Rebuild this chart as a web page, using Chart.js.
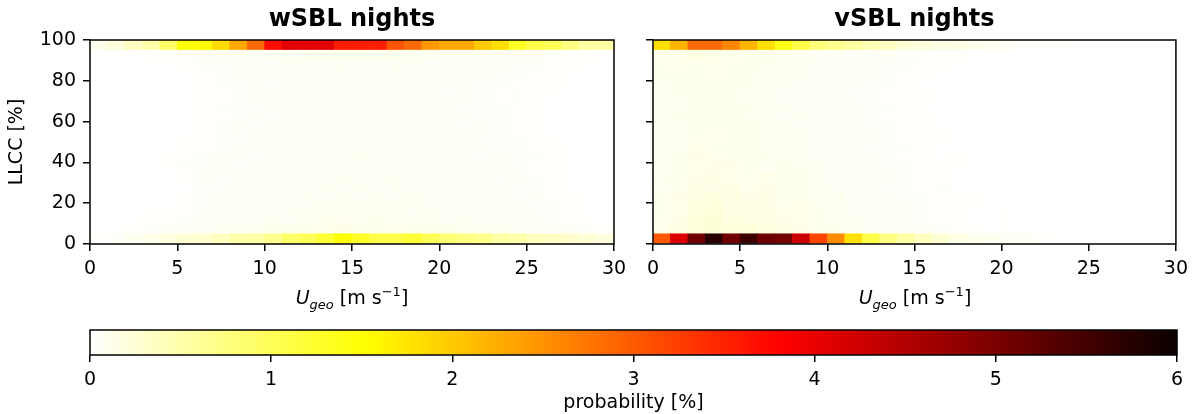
<!DOCTYPE html>
<html>
<head>
<meta charset="utf-8">
<script src="https://cdn.jsdelivr.net/npm/chart.js@4.4.1/dist/chart.umd.min.js"></script>
<style>
  body { margin: 0; background: #fff; }
  #wrap { position: relative; width: 1195px; height: 414px; background: #fff; font-family: 'DejaVu Sans', sans-serif; }
  canvas { position: absolute; }
  .xlabel { position: absolute; top: 286px; width: 524px; text-align: center; font-size: 19px; line-height: 22px; color: #000; }
  .xlabel sub { font-size: 13px; line-height: 0; vertical-align: -5px; }
  .xlabel sup { font-size: 13px; line-height: 0; vertical-align: 8px; }
</style>
</head>
<body>
<div id="wrap">
  <canvas id="wsblChart" width="640" height="284" style="left:0;top:0"></canvas>
  <canvas id="vsblChart" width="595" height="284" style="left:600px;top:0"></canvas>
  <canvas id="cbarChart" width="1195" height="104" style="left:0;top:310px"></canvas>
  <div class="xlabel" style="left:90px"><i>U</i><sub><i>geo</i></sub> [m s<sup>−1</sup>]</div>
  <div class="xlabel" style="left:653px"><i>U</i><sub><i>geo</i></sub> [m s<sup>−1</sup>]</div>
</div>
<script>
// bin edges of the 2D histograms
const windEdges = [0, 1, 2, 3, 4, 5, 6, 7, 8, 9, 10, 11, 12, 13, 14, 15, 16, 17, 18, 19, 20,
                   21, 22, 23, 24, 25, 26, 27, 28, 29, 30];
const llccEdges = [0, 5, 10, 15, 20, 25, 30, 35, 40, 45, 50, 55, 60, 65, 70, 75, 80, 85, 90, 95, 100];
const probTicks = [0, 1, 2, 3, 4, 5, 6];
const panelTitles = ['wSBL nights', 'vSBL nights'];

// probability [%] per LLCC bin (first row = 0-5 %), one value per 1 m/s wind bin
const wsblProb = [
  [0.02,0.03,0.08,0.13,0.18,0.25,0.28,0.38,0.50,0.55, 0.65,0.90,1.00,1.20,1.50,1.30,1.10,1.10,1.20,1.00, 0.85,0.75,0.70,0.55,0.50,0.38,0.35,0.30,0.25,0.20],
  [0.01,0.01,0.02,0.03,0.04,0.05,0.06,0.07,0.08,0.07, 0.09,0.10,0.09,0.12,0.13,0.11,0.10,0.12,0.11,0.10, 0.09,0.08,0.08,0.07,0.06,0.06,0.05,0.04,0.03,0.02],
  [0.00,0.01,0.01,0.02,0.02,0.03,0.05,0.05,0.06,0.05, 0.07,0.06,0.08,0.09,0.07,0.08,0.10,0.08,0.07,0.08, 0.06,0.07,0.05,0.06,0.04,0.04,0.03,0.02,0.01,0.01],
  [0.00,0.00,0.01,0.01,0.01,0.02,0.03,0.05,0.04,0.06, 0.05,0.07,0.06,0.08,0.07,0.09,0.07,0.08,0.06,0.07, 0.05,0.06,0.05,0.04,0.05,0.03,0.03,0.02,0.01,0.01],
  [0.00,0.00,0.00,0.01,0.01,0.02,0.03,0.04,0.05,0.04, 0.06,0.05,0.07,0.06,0.08,0.06,0.07,0.06,0.08,0.05, 0.06,0.04,0.05,0.04,0.03,0.04,0.02,0.02,0.01,0.00],
  [0.00,0.00,0.01,0.00,0.01,0.01,0.03,0.03,0.05,0.06, 0.04,0.06,0.05,0.07,0.06,0.07,0.05,0.07,0.06,0.06, 0.05,0.05,0.04,0.05,0.03,0.03,0.02,0.01,0.01,0.00],
  [0.00,0.00,0.00,0.01,0.01,0.02,0.04,0.03,0.04,0.05, 0.05,0.04,0.06,0.06,0.07,0.05,0.06,0.07,0.05,0.06, 0.04,0.05,0.05,0.03,0.04,0.03,0.02,0.01,0.01,0.00],
  [0.00,0.00,0.00,0.00,0.01,0.03,0.03,0.04,0.03,0.05, 0.04,0.05,0.06,0.05,0.06,0.06,0.05,0.06,0.06,0.05, 0.05,0.04,0.04,0.04,0.03,0.02,0.02,0.01,0.00,0.00],
  [0.00,0.00,0.00,0.01,0.02,0.02,0.03,0.04,0.05,0.03, 0.05,0.06,0.04,0.06,0.05,0.07,0.06,0.05,0.05,0.06, 0.04,0.05,0.03,0.04,0.03,0.03,0.02,0.01,0.01,0.00],
  [0.00,0.00,0.00,0.00,0.01,0.02,0.02,0.03,0.04,0.04, 0.04,0.05,0.05,0.04,0.06,0.05,0.05,0.06,0.04,0.05, 0.05,0.04,0.04,0.03,0.03,0.02,0.02,0.01,0.00,0.00],
  [0.00,0.00,0.00,0.00,0.01,0.01,0.02,0.03,0.03,0.04, 0.05,0.04,0.05,0.05,0.05,0.06,0.04,0.05,0.05,0.04, 0.04,0.05,0.03,0.03,0.03,0.02,0.01,0.01,0.00,0.00],
  [0.00,0.00,0.00,0.00,0.00,0.01,0.02,0.03,0.04,0.03, 0.04,0.04,0.05,0.04,0.06,0.04,0.05,0.05,0.04,0.05, 0.04,0.03,0.04,0.03,0.02,0.02,0.01,0.01,0.00,0.00],
  [0.00,0.00,0.00,0.00,0.01,0.01,0.02,0.02,0.03,0.04, 0.03,0.05,0.04,0.05,0.04,0.05,0.05,0.04,0.05,0.04, 0.04,0.04,0.03,0.03,0.02,0.02,0.01,0.01,0.00,0.00],
  [0.00,0.00,0.00,0.00,0.00,0.01,0.02,0.03,0.03,0.03, 0.04,0.04,0.05,0.04,0.05,0.05,0.04,0.05,0.04,0.04, 0.04,0.03,0.03,0.03,0.02,0.02,0.01,0.01,0.00,0.00],
  [0.00,0.00,0.00,0.00,0.01,0.01,0.02,0.02,0.03,0.04, 0.04,0.03,0.05,0.05,0.04,0.05,0.05,0.05,0.04,0.05, 0.03,0.04,0.03,0.02,0.03,0.02,0.01,0.01,0.00,0.00],
  [0.00,0.00,0.00,0.00,0.00,0.01,0.02,0.03,0.03,0.04, 0.03,0.05,0.04,0.05,0.05,0.04,0.06,0.04,0.05,0.04, 0.04,0.04,0.03,0.03,0.02,0.02,0.02,0.01,0.00,0.00],
  [0.00,0.00,0.00,0.00,0.01,0.01,0.02,0.03,0.04,0.04, 0.05,0.04,0.05,0.06,0.05,0.05,0.05,0.06,0.05,0.05, 0.04,0.04,0.04,0.03,0.03,0.02,0.02,0.01,0.01,0.00],
  [0.00,0.00,0.00,0.01,0.01,0.02,0.03,0.03,0.04,0.05, 0.05,0.06,0.06,0.05,0.07,0.06,0.06,0.07,0.06,0.05, 0.06,0.05,0.04,0.04,0.03,0.03,0.02,0.02,0.01,0.01],
  [0.00,0.01,0.01,0.02,0.03,0.04,0.05,0.06,0.06,0.07, 0.08,0.08,0.09,0.10,0.11,0.10,0.09,0.10,0.08,0.08, 0.07,0.06,0.06,0.05,0.04,0.04,0.03,0.02,0.02,0.01],
  [0.10,0.20,0.35,0.50,0.90,1.50,1.55,1.85,2.30,2.85, 3.70,4.05,4.05,4.05,3.55,3.55,3.55,3.05,2.85,2.45, 2.30,2.30,2.00,1.80,1.30,1.10,1.00,0.75,0.55,0.55]
];

const vsblProb = [
  [3.00,4.12,5.09,5.74,5.09,5.56,5.12,5.05,4.27,3.20, 2.56,1.80,1.10,0.75,0.55,0.38,0.25,0.15,0.10,0.08, 0.05,0.04,0.02,0.01,0.01,0,0,0,0,0],
  [0.12,0.16,0.22,0.25,0.21,0.22,0.18,0.17,0.14,0.11, 0.09,0.08,0.06,0.05,0.04,0.04,0.03,0.02,0.02,0.01, 0.01,0.01,0,0,0,0,0,0,0,0],
  [0.10,0.14,0.20,0.24,0.18,0.16,0.17,0.14,0.12,0.10, 0.08,0.07,0.06,0.05,0.04,0.03,0.02,0.02,0.01,0.01, 0.01,0,0,0,0,0,0,0,0,0],
  [0.09,0.12,0.19,0.21,0.15,0.17,0.14,0.12,0.13,0.09, 0.07,0.06,0.05,0.04,0.04,0.03,0.02,0.02,0.01,0.01, 0.01,0,0,0,0,0,0,0,0,0],
  [0.10,0.13,0.16,0.18,0.16,0.13,0.15,0.11,0.10,0.08, 0.09,0.06,0.05,0.04,0.03,0.03,0.02,0.02,0.02,0.01, 0,0,0,0,0,0,0,0,0,0],
  [0.08,0.11,0.15,0.14,0.15,0.12,0.13,0.10,0.09,0.08, 0.06,0.06,0.05,0.03,0.03,0.02,0.03,0.01,0.01,0.01, 0,0,0,0,0,0,0,0,0,0],
  [0.09,0.10,0.13,0.15,0.12,0.11,0.12,0.09,0.10,0.07, 0.06,0.05,0.04,0.04,0.03,0.02,0.02,0.01,0.01,0, 0,0,0,0,0,0,0,0,0,0],
  [0.07,0.10,0.12,0.13,0.13,0.10,0.07,0.10,0.08,0.07, 0.06,0.05,0.04,0.03,0.03,0.02,0.02,0.01,0.01,0, 0,0,0,0,0,0,0,0,0,0],
  [0.08,0.09,0.13,0.12,0.11,0.10,0.09,0.08,0.08,0.06, 0.05,0.05,0.04,0.03,0.02,0.02,0.01,0.02,0.01,0, 0,0,0,0,0,0,0,0,0,0],
  [0.07,0.08,0.12,0.11,0.10,0.11,0.08,0.08,0.07,0.06, 0.05,0.04,0.03,0.03,0.03,0.02,0.01,0.01,0.01,0, 0,0,0,0,0,0,0,0,0,0],
  [0.08,0.09,0.11,0.12,0.11,0.09,0.09,0.07,0.07,0.05, 0.05,0.04,0.04,0.03,0.02,0.02,0.02,0.01,0.01,0, 0,0,0,0,0,0,0,0,0,0],
  [0.07,0.08,0.11,0.10,0.09,0.10,0.08,0.07,0.06,0.06, 0.04,0.04,0.03,0.03,0.02,0.02,0.01,0.01,0,0, 0,0,0,0,0,0,0,0,0,0],
  [0.07,0.09,0.10,0.11,0.10,0.08,0.08,0.06,0.07,0.05, 0.05,0.04,0.03,0.02,0.02,0.02,0.01,0.01,0,0, 0,0,0,0,0,0,0,0,0,0],
  [0.08,0.08,0.11,0.10,0.09,0.09,0.07,0.07,0.06,0.05, 0.04,0.04,0.03,0.03,0.02,0.01,0.01,0.01,0,0, 0,0,0,0,0,0,0,0,0,0],
  [0.07,0.09,0.10,0.11,0.09,0.08,0.08,0.06,0.06,0.06, 0.04,0.03,0.03,0.02,0.02,0.02,0.01,0,0,0, 0,0,0,0,0,0,0,0,0,0],
  [0.08,0.09,0.11,0.10,0.10,0.09,0.07,0.07,0.06,0.05, 0.05,0.04,0.03,0.03,0.02,0.01,0.01,0.01,0,0, 0,0,0,0,0,0,0,0,0,0],
  [0.09,0.10,0.11,0.12,0.10,0.09,0.08,0.07,0.07,0.06, 0.05,0.04,0.04,0.03,0.02,0.02,0.01,0.01,0.01,0, 0,0,0,0,0,0,0,0,0,0],
  [0.10,0.12,0.11,0.12,0.11,0.10,0.09,0.08,0.07,0.06, 0.06,0.05,0.04,0.03,0.03,0.02,0.02,0.01,0.01,0, 0,0,0,0,0,0,0,0,0,0],
  [0.13,0.12,0.15,0.14,0.12,0.11,0.10,0.09,0.08,0.07, 0.06,0.05,0.04,0.04,0.03,0.03,0.02,0.02,0.01,0.01, 0,0,0,0,0,0,0,0,0,0],
  [1.80,2.20,2.85,2.85,2.60,2.20,1.80,1.40,1.10,0.78, 0.68,0.57,0.45,0.35,0.25,0.20,0.15,0.14,0.10,0.08, 0.05,0.03,0.02,0.02,0.01,0.01,0.01,0,0,0]
];

const probMax = probTicks[probTicks.length - 1];

Chart.defaults.font.family = "'DejaVu Sans', sans-serif";
Chart.defaults.font.size = 19;
Chart.defaults.color = '#000';

// reversed matplotlib "hot" colormap, t in [0, 1]
function hotR(t) {
  const x = 1 - Math.min(Math.max(t, 0), 1);
  const r = x < 0.365079 ? 0.0416 + (1 - 0.0416) * x / 0.365079 : 1;
  const g = x < 0.365079 ? 0 : (x < 0.746032 ? (x - 0.365079) / (0.746032 - 0.365079) : 1);
  const b = x < 0.746032 ? 0 : (x - 0.746032) / (1 - 0.746032);
  return `rgb(${Math.round(r * 255)}, ${Math.round(g * 255)}, ${Math.round(b * 255)})`;
}

// black box round the plot area
const frame = {
  id: 'frame',
  afterDatasetsDraw(chart) {
    const { ctx, chartArea: a } = chart;
    ctx.save();
    ctx.strokeStyle = '#000';
    ctx.lineWidth = 1.5;
    ctx.strokeRect(a.left, a.top, a.right - a.left, a.bottom - a.top);
    ctx.restore();
  }
};

// each LLCC bin becomes one dataset of floating bars, one bar per wind bin
function heatDatasets(grid) {
  return grid.map((row, r) => ({
    data: row.map((p, c) => ({
      x: (windEdges[c] + windEdges[c + 1]) / 2,
      y: [llccEdges[r], llccEdges[r + 1]]
    })),
    backgroundColor: row.map(p => hotR(p / probMax)),
    borderWidth: 0,
    barPercentage: 1,
    categoryPercentage: 1,
    grouped: false
  }));
}

const tickGrid = { offset: false, drawOnChartArea: false, color: '#000', lineWidth: 1.5, tickLength: 7 };

function heatOptions(title, showY, leftPad, yWidth, rightPad) {
  return {
    responsive: false,
    animation: false,
    devicePixelRatio: 1,
    layout: { padding: { left: leftPad, right: rightPad, top: 0, bottom: 0 } },
    plugins: {
      legend: { display: false },
      tooltip: { enabled: false },
      title: {
        display: true, text: title, fullSize: false, color: '#000',
        font: { size: 24, weight: 'bold', lineHeight: 1 },
        padding: { top: 8, bottom: 8 }
      }
    },
    scales: {
      x: {
        type: 'linear', min: windEdges[0], max: windEdges[windEdges.length - 1], offset: false,
        grid: tickGrid,
        border: { display: false },
        ticks: { stepSize: 5, padding: 7, maxRotation: 0 },
        afterFit: s => { s.height = 40; }
      },
      y: {
        type: 'linear', min: llccEdges[0], max: llccEdges[llccEdges.length - 1],
        grid: tickGrid,
        border: { display: false },
        ticks: { stepSize: 20, padding: 7, callback: v => showY ? v : '' },
        title: { display: showY, text: 'LLCC [%]', padding: 0 },
        afterFit: s => { s.width = yWidth; }
      }
    }
  };
}

new Chart(document.getElementById('wsblChart'), {
  type: 'bar',
  data: { datasets: heatDatasets(wsblProb) },
  options: heatOptions(panelTitles[0], true, 6, 84, 26),
  plugins: [frame]
});

new Chart(document.getElementById('vsblChart'), {
  type: 'bar',
  data: { datasets: heatDatasets(vsblProb) },
  options: heatOptions(panelTitles[1], false, 0, 53, 18),
  plugins: [frame]
});

// colour bar: one floating bar filled with the colormap
new Chart(document.getElementById('cbarChart'), {
  type: 'bar',
  data: {
    labels: [''],
    datasets: [{
      data: [[probTicks[0], probMax]],
      backgroundColor(ctx) {
        const a = ctx.chart.chartArea;
        if (!a) return 'rgba(0,0,0,0)';
        const g = ctx.chart.ctx.createLinearGradient(a.left, 0, a.right, 0);
        for (let i = 0; i <= 64; i++) g.addColorStop(i / 64, hotR(i / 64));
        return g;
      },
      borderWidth: 0,
      barPercentage: 1,
      categoryPercentage: 1
    }]
  },
  options: {
    indexAxis: 'y',
    responsive: false,
    animation: false,
    devicePixelRatio: 1,
    layout: { padding: { left: 90, right: 18, top: 20, bottom: 0 } },
    plugins: { legend: { display: false }, tooltip: { enabled: false } },
    scales: {
      y: { display: false },
      x: {
        type: 'linear', min: probTicks[0], max: probMax,
        grid: tickGrid,
        border: { display: false },
        ticks: { stepSize: 1, padding: 7, maxRotation: 0 },
        title: { display: true, text: 'probability [%]', padding: 0 },
        afterFit: s => { s.height = 59; }
      }
    }
  },
  plugins: [frame]
});
</script>
</body>
</html>
